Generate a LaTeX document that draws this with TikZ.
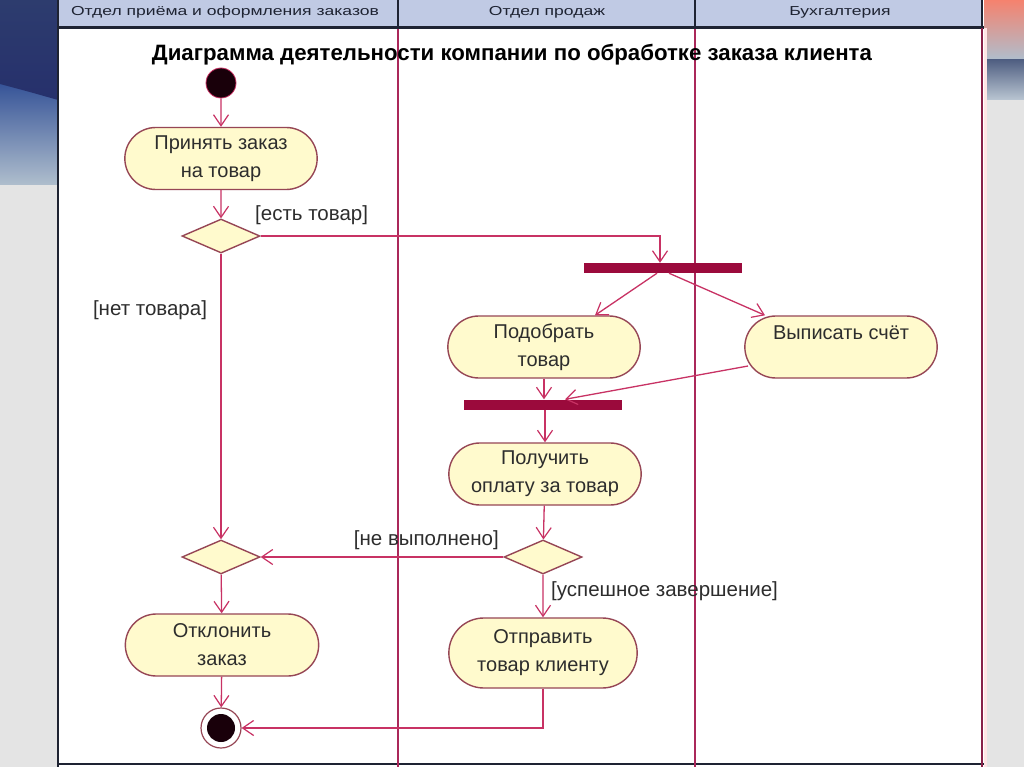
\documentclass[tikz,border=0pt]{standalone}
\usepackage{fontspec}
\setmainfont{Liberation Sans}
\usetikzlibrary{shapes.misc,shapes.geometric,arrows.meta,calc}
\definecolor{linecol}{RGB}{200,50,100}
\definecolor{lanecol}{RGB}{170,40,90}
\definecolor{actborder}{RGB}{150,70,85}
\definecolor{actfill}{RGB}{255,250,205}
\definecolor{barcol}{RGB}{155,10,60}
\definecolor{headfill}{RGB}{192,202,228}
\definecolor{darkline}{RGB}{30,35,50}
\definecolor{txtcol}{RGB}{45,45,45}
\definecolor{dotcol}{RGB}{25,0,10}
\definecolor{navy}{RGB}{38,48,108}
\definecolor{navytop}{RGB}{45,60,110}
\definecolor{midblue}{RGB}{50,80,150}
\definecolor{paleblue}{RGB}{175,190,205}
\definecolor{bggray}{RGB}{228,228,228}
\definecolor{salmon}{RGB}{245,130,110}
\definecolor{slate}{RGB}{80,95,130}
\begin{document}
\begin{tikzpicture}[x=1pt,y=-1pt,
  act/.style={rounded rectangle, draw=actborder, fill=actfill, line width=1.4pt,
    minimum width=199pt, minimum height=62pt, align=center, text=txtcol,
    font=\fontsize{20}{28}\selectfont},
  decision/.style={diamond, draw=actborder, fill=actfill, line width=1.4pt,
    minimum width=78pt, minimum height=34pt, inner sep=0pt},
  bar/.style={rectangle, fill=barcol, minimum width=158pt, minimum height=10pt, inner sep=0pt},
  flow/.style={draw=linecol, line width=1.3pt, -{Straight Barb[length=11pt,width=15pt,line width=1.2pt]}},
  guard/.style={text=txtcol, font=\fontsize{20.5}{22}\selectfont, inner sep=0pt},
  lane/.style={draw=lanecol, line width=1.4pt},
  headtxt/.style={text=darkline, font=\fontsize{13}{15}\selectfont, inner sep=0pt}
]
\useasboundingbox (0,0) rectangle (1024,767);
% background
\fill[bggray] (0,0) rectangle (1024,767);
\shade[top color=midblue, bottom color=paleblue] (0,80) rectangle (58,185);
\shade[top color=navytop, bottom color=navy] (0,0) -- (58,0) -- (58,100) .. controls (30,92) .. (0,84) -- cycle;
\shade[top color=salmon, bottom color=paleblue] (984,0) rectangle (1024,60);
\shade[top color=slate, bottom color=paleblue!80!bggray] (984,60) rectangle (1024,100);
% panel
\fill[white] (58,0) rectangle (984,767);
\fill[headfill] (58,0) rectangle (982,27);
\draw[darkline, line width=3pt] (58,28) -- (984,28);
\draw[darkline, line width=1.5pt] (398,0) -- (398,28) (695,0) -- (695,28) (982,0) -- (982,28);
\draw[darkline, line width=2pt] (58,0) -- (58,767);
\draw[darkline, line width=1.5pt] (58,764) -- (984,764);
\draw[lane] (398,29) -- (398,767) (695,29) -- (695,767);
\draw[lanecol!80!black, line width=1.2pt] (982,28) -- (982,767);
\fill[pink!40] (983.5,28) rectangle (987,767);
% headers
\node[headtxt] (h1) at (225,12) {\scalebox{1.35}[1]{Отдел приёма и оформления заказов}};
\node[headtxt] (h2) at (547,12) {\scalebox{1.35}[1]{Отдел продаж}};
\node[headtxt] (h3) at (840,12) {\scalebox{1.35}[1]{Бухгалтерия}};
% title
\node[inner sep=0pt, text=black] (title) at (512,55) {\resizebox{720pt}{!}{\bfseries\fontsize{20}{24}\selectfont Диаграмма деятельности компании по обработке заказа клиента}};
% nodes
\node[circle, fill=dotcol, draw=linecol, line width=0.8pt, minimum size=30pt, inner sep=0pt] (start) at (221,83) {};
\node[act] (a1) at (221,158.5) {Принять заказ\\на товар};
\node[decision] (d1) at (221,236) {};
\node[bar] (fork) at (663,268) {};
\node[act] (a2) at (544,347) {Подобрать\\товар};
\node[act] (a3) at (841,347) {Выписать счёт\\\mbox{}};
\node[bar] (join) at (543,404.5) {};
\node[act] (a4) at (545,474) {Получить\\оплату за товар};
\node[decision] (d3) at (543,557) {};
\node[decision] (d2) at (221,557) {};
\node[act, minimum width=195pt, minimum height=70pt] (a5) at (543,653) {Отправить\\товар клиенту};
\node[act, minimum width=200pt] (a6) at (222,645) {Отклонить\\заказ};
\node[circle, draw=actborder, fill=white, line width=1.2pt, minimum size=40pt, inner sep=0pt] (final) at (221,728) {};
\node[circle, fill=dotcol, minimum size=28pt, inner sep=0pt] (finaldot) at (221,728) {};
% guards
\node[guard, anchor=west] (g1) at (255,215) {[есть товар]};
\node[guard] (g2) at (150,310) {[нет товара]};
\node[guard, anchor=east] (g3) at (499,540) {[не выполнено]};
\node[guard, anchor=west] (g4) at (551,591) {[успешное завершение]};
% flows
\draw[flow] (start) -- (a1);
\draw[flow] (a1) -- (d1);
\draw[flow] (d1.east) -| ([xshift=-3pt]fork.north);
\draw[flow] ([xshift=-6pt]fork.south) -- ([xshift=51pt]a2.north);
\draw[flow] ([xshift=6pt]fork.south) -- ([xshift=-76pt]a3.north);
\draw[flow] (a2.south) -- (a2.south |- join.north);
\draw[flow] ($(a3.center)+(-93,19)$) -- ([xshift=22pt]join.north);
\draw[flow] (join.south -| a4.north) -- (a4.north);
\draw[flow] (a4) -- (d3);
\draw[flow] (d3.west) -- (d2.east);
\draw[flow] (d3) -- (a5);
\draw[flow] (d1) -- (d2);
\draw[flow] (d2) -- (a6);
\draw[flow] (a6) -- (final);
\draw[flow] (a5.south) |- (final.east);
\end{tikzpicture}
\end{document}
